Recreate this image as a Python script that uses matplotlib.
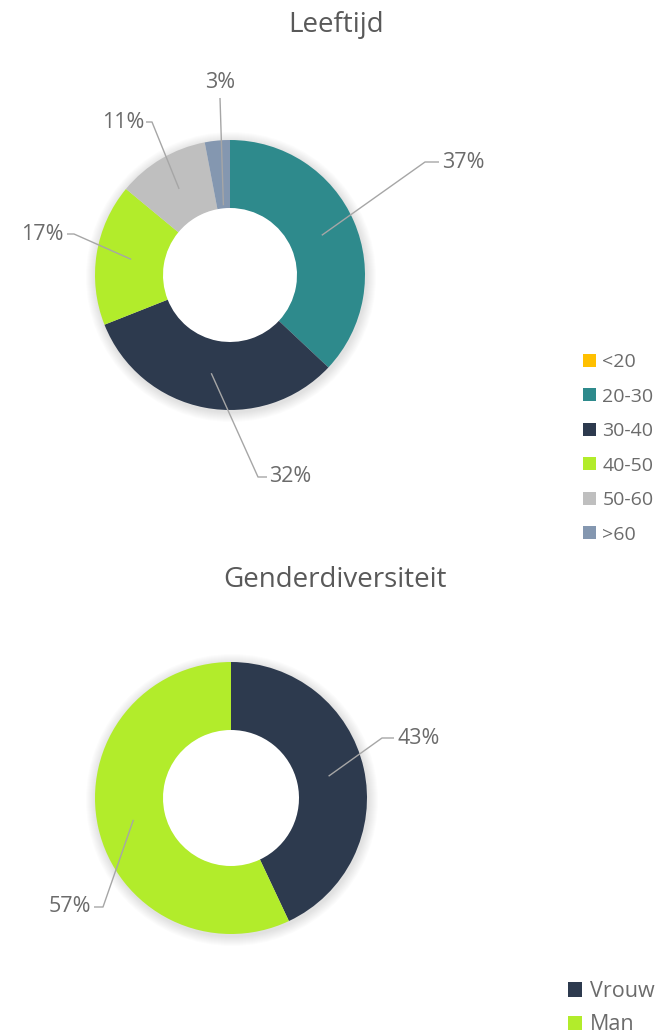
import matplotlib
matplotlib.use("Agg")
import matplotlib.pyplot as plt
from matplotlib.patches import Circle
import numpy as np

# ---- data ----
age_labels = ["<20", "20-30", "30-40", "40-50", "50-60", ">60"]
age_values = [0, 37, 32, 17, 11, 3]
age_colors = ["#FFC000", "#2E8A8C", "#2D3A4E", "#B2EC2B", "#BFBFBF", "#8497B0"]

gender_labels = ["Vrouw", "Man"]
gender_values = [43, 57]
gender_colors = ["#2D3A4E", "#B2EC2B"]

titles = ["Leeftijd", "Genderdiversiteit"]

W, H = 657, 1036
plt.rcParams['font.family'] = ['Open Sans', 'DejaVu Sans']
fig = plt.figure(figsize=(W / 100, H / 100), dpi=100)
ax = fig.add_axes([0, 0, 1, 1])

TXT = "#6b6b6b"
LINE = "#a6a6a6"


def Y(yp):
    return H - yp


def shadow(cx, cy, R, width):
    for k in range(10, 0, -1):
        ax.add_patch(Circle((cx + 1, Y(cy) - 2), R + k, facecolor='#000000',
                            edgecolor='none', alpha=0.010, zorder=0))
    ax.add_patch(Circle((cx, Y(cy)), R - width + 0.5, facecolor='white',
                        edgecolor='none', zorder=0.5))


def donut(values, colors, cx, cy, R, width):
    shadow(cx, cy, R, width)
    wedges, _ = ax.pie(values, colors=colors, center=(cx, Y(cy)), radius=R,
                       startangle=90, counterclock=False,
                       wedgeprops=dict(width=width, edgecolor='none', linewidth=0, zorder=1))
    return wedges


def leader(values, idx, cx, cy, r, pts, text_xy, ha):
    total = float(sum(values))
    start = sum(values[:idx]) / total
    mid = (start + values[idx] / total / 2) * 2 * np.pi
    x0 = cx + r * np.sin(mid)
    y0 = cy - r * np.cos(mid)
    xs = [x0] + [p[0] for p in pts]
    ys = [Y(y0)] + [Y(p[1]) for p in pts]
    ax.plot(xs, ys, color=LINE, lw=1.0, solid_capstyle='butt', zorder=3)
    ax.text(text_xy[0], Y(text_xy[1]), f"{values[idx]}%", ha=ha, va='center',
            fontsize=15.5, color=TXT, zorder=3)


# ---- Leeftijd donut ----
c1 = (230, 275)
w1 = donut(age_values, age_colors, c1[0], c1[1], 135, 68)
# 20-30
leader(age_values, 1, c1[0], c1[1], 100, [(425, 162), (439, 162)], (442, 162), 'left')
# 30-40
leader(age_values, 2, c1[0], c1[1], 100, [(258, 477), (267, 477)], (269, 477), 'left')
# 40-50
leader(age_values, 3, c1[0], c1[1], 100, [(74, 234), (67, 234)], (64, 235), 'right')
# 50-60
leader(age_values, 4, c1[0], c1[1], 100, [(152, 122), (146, 122)], (144, 122), 'right')
# >60
leader(age_values, 5, c1[0], c1[1], 70, [(220, 98)], (220, 83), 'center')

# ---- Gender donut ----
c2 = (231, 798)
w2 = donut(gender_values, gender_colors, c2[0], c2[1], 136, 68)
leader(gender_values, 0, c2[0], c2[1], 100, [(382, 738), (394, 738)], (397, 738), 'left')
leader(gender_values, 1, c2[0], c2[1], 100, [(103, 907), (94, 907)], (91, 907), 'right')

ax.set_xlim(0, W)
ax.set_ylim(0, H)
ax.set_aspect('equal')
ax.axis('off')

# titles
fig.text(336 / W, 1 - 25 / H, titles[0], ha='center', va='center', fontsize=20, color="#595959")
fig.text(335 / W, 1 - 580 / H, titles[1], ha='center', va='center', fontsize=20, color="#595959")

# legends
leg1 = ax.legend(w1, age_labels, loc='upper left', bbox_to_anchor=(583 / W, 1 - 353 / H),
                 bbox_transform=fig.transFigure, frameon=False, fontsize=14,
                 handlelength=0.65, handleheight=0.65, handletextpad=0.35,
                 labelspacing=0.85, borderpad=0, borderaxespad=0, labelcolor=TXT)
ax.add_artist(leg1)
leg2 = ax.legend(w2, gender_labels, loc='upper left', bbox_to_anchor=(568 / W, 1 - 981 / H),
                 bbox_transform=fig.transFigure, frameon=False, fontsize=15.5,
                 handlelength=0.65, handleheight=0.65, handletextpad=0.35,
                 labelspacing=0.58, borderpad=0, borderaxespad=0, labelcolor=TXT)

fig.savefig("out.png", dpi=100, facecolor='white')
